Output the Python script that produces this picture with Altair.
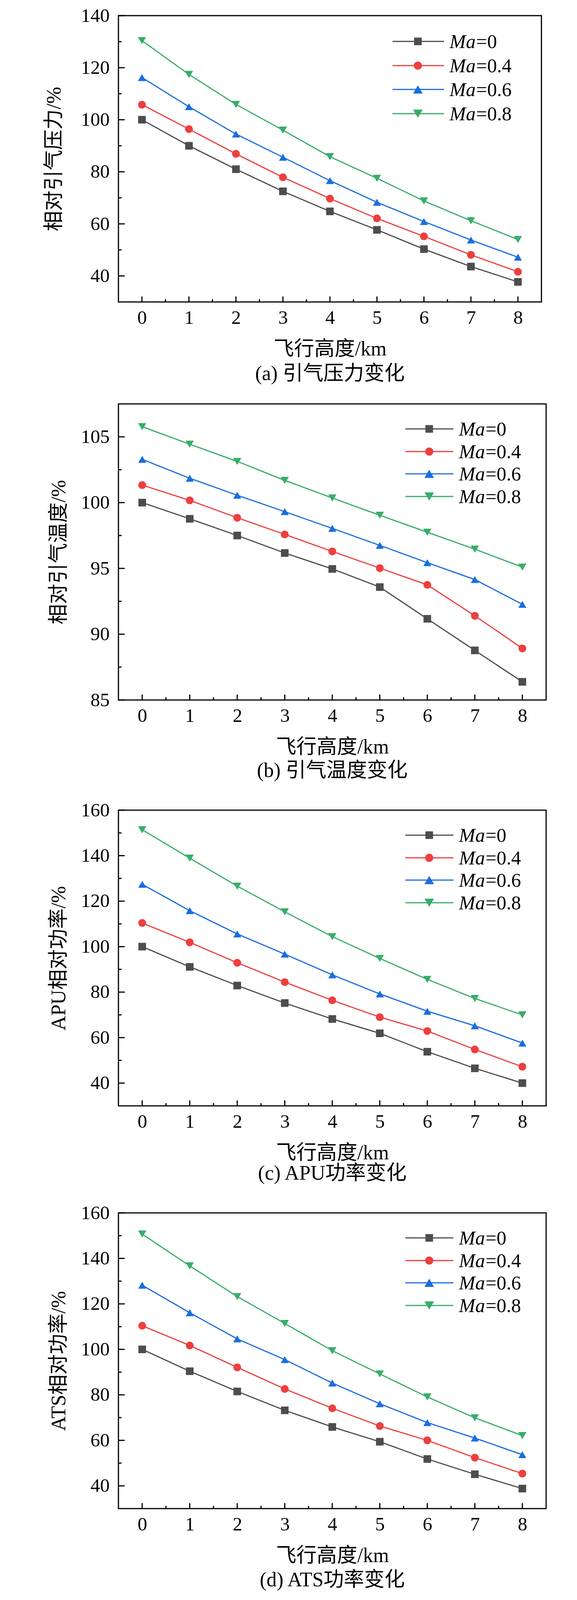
import altair as alt
import pandas as pd

FONT = "Liberation Serif, Noto Sans CJK SC, serif"

HEIGHT_KM = [0, 1, 2, 3, 4, 5, 6, 7, 8]
X_MINOR = [0.5, 1.5, 2.5, 3.5, 4.5, 5.5, 6.5, 7.5]
SERIES = ["Ma=0", "Ma=0.4", "Ma=0.6", "Ma=0.8"]
SERIES_TAIL = ["=0", "=0.4", "=0.6", "=0.8"]
COLORS = ["#4d4d4d", "#ee3e3e", "#1a6de0", "#37ad6a"]
SHAPES = ["square", "circle", "triangle-up", "triangle-down"]
SIZES = [380, 440, 600, 600]
X_TITLE = "飞行高度/km"

# (a) 引气压力
A_MA0 = [100.0, 90.0, 81.0, 72.5, 64.8, 57.7, 50.3, 43.6, 37.7]
A_MA04 = [105.8, 96.4, 86.9, 77.9, 69.7, 62.1, 55.2, 48.1, 41.6]
A_MA06 = [116.2, 105.0, 94.5, 85.6, 76.6, 68.3, 60.9, 53.8, 47.2]
A_MA08 = [130.4, 117.4, 105.9, 96.0, 85.8, 77.5, 68.8, 61.2, 54.0]

# (b) 引气温度
B_MA0 = [100.0, 98.77, 97.5, 96.17, 94.96, 93.58, 91.17, 88.77, 86.38]
B_MA04 = [101.33, 100.17, 98.85, 97.58, 96.29, 95.02, 93.75, 91.4, 88.92]
B_MA06 = [103.29, 101.85, 100.56, 99.31, 98.04, 96.75, 95.44, 94.15, 92.27]
B_MA08 = [105.77, 104.44, 103.13, 101.69, 100.35, 99.04, 97.75, 96.46, 95.1]

# (c) APU 功率
C_MA0 = [100.0, 91.1, 82.9, 75.2, 68.2, 61.9, 53.8, 46.5, 40.0]
C_MA04 = [110.4, 101.9, 92.9, 84.4, 76.4, 69.0, 62.9, 54.8, 47.2]
C_MA06 = [127.4, 115.8, 105.6, 96.7, 87.6, 79.2, 71.6, 65.2, 57.6]
C_MA08 = [151.4, 138.9, 126.6, 115.3, 104.4, 94.8, 85.6, 77.2, 70.0]

# (d) ATS 功率
D_MA0 = [100.0, 90.4, 81.5, 73.2, 65.9, 59.4, 51.8, 45.1, 38.8]
D_MA04 = [110.4, 101.7, 92.1, 82.6, 74.1, 66.3, 60.0, 52.4, 45.4]
D_MA06 = [128.2, 116.1, 104.6, 95.5, 85.2, 76.1, 67.8, 61.0, 53.7]
D_MA08 = [150.7, 136.7, 123.2, 111.4, 99.4, 89.2, 79.1, 69.9, 62.1]

A_YDOM = [30, 140]
A_YMAJOR = [40, 60, 80, 100, 120, 140]
A_YMINOR = [50, 70, 90, 110, 130]
B_YDOM = [85, 107.5]
B_YMAJOR = [85, 90, 95, 100, 105]
B_YMINOR = [87.5, 92.5, 97.5, 102.5]
C_YDOM = [30, 160]
C_YMAJOR = [40, 60, 80, 100, 120, 140, 160]
C_YMINOR = [50, 70, 90, 110, 130, 150]

TICK_FS = 49
TITLE_FS = 52
LEG_FS = 50


def panel(series_vals, ydom, ymajor, yminor, ytitle, caption, W, H,
          leg_rows, leg_x, cap_offset, title_pad):
    rows = []
    for name, vals in zip(SERIES, series_vals):
        for h, v in zip(HEIGHT_KM, vals):
            rows.append({"h": h, "v": v, "s": name})
    df = pd.DataFrame(rows)

    xs = alt.Scale(domain=[-0.5, 8.5], nice=False, zero=False)
    ys = alt.Scale(domain=ydom, nice=False, zero=False)
    xaxis = alt.Axis(values=HEIGHT_KM, format="d", title=X_TITLE,
                     domain=False, ticks=False, tickSize=0, grid=False,
                     labelFlush=False, labelAngle=0,
                     labelFont=FONT, labelFontSize=TICK_FS, labelColor="black",
                     labelPadding=16, titleFont=FONT, titleFontSize=TITLE_FS,
                     titleFontWeight="normal", titleColor="black",
                     titlePadding=30)
    yaxis = alt.Axis(values=ymajor, format="d", title=ytitle,
                     domain=False, ticks=False, tickSize=0, grid=False,
                     labelFlush=False,
                     labelFont=FONT, labelFontSize=TICK_FS, labelColor="black",
                     labelPadding=23, titleFont=FONT, titleFontSize=TITLE_FS,
                     titleFontWeight="normal", titleColor="black",
                     titlePadding=title_pad)

    def X(f):
        return alt.X(f, type="quantitative", scale=xs, axis=xaxis)

    def Y(f):
        return alt.Y(f, type="quantitative", scale=ys, axis=yaxis)

    color = alt.Color("s:N", scale=alt.Scale(domain=SERIES, range=COLORS), legend=None)
    shape = alt.Shape("s:N", scale=alt.Scale(domain=SERIES, range=SHAPES), legend=None)
    size = alt.Size("s:N", scale=alt.Scale(domain=SERIES, range=SIZES), legend=None)

    lines = alt.Chart(df).mark_line(strokeWidth=3).encode(
        x=X("h"), y=Y("v"), color=color)
    pts = alt.Chart(df).mark_point(filled=True, opacity=1).encode(
        x=X("h"), y=Y("v"), color=color, shape=shape, size=size)

    tick = dict(color="black", strokeWidth=3)
    xmaj = alt.Chart(pd.DataFrame({"t": HEIGHT_KM})).mark_rule(**tick).encode(
        x=X("t"), y=alt.value(H), y2=alt.value(H - 14))
    xmin = alt.Chart(pd.DataFrame({"t": X_MINOR})).mark_rule(**tick).encode(
        x=X("t"), y=alt.value(H), y2=alt.value(H - 7))
    ymaj = alt.Chart(pd.DataFrame({"t": ymajor})).mark_rule(**tick).encode(
        y=Y("t"), x=alt.value(0), x2=alt.value(16))
    ymin = alt.Chart(pd.DataFrame({"t": yminor})).mark_rule(**tick).encode(
        y=Y("t"), x=alt.value(0), x2=alt.value(8))

    layers = [lines, pts, xmaj, xmin, ymaj, ymin]

    lx0, lx1, mx, tx = [W - d for d in leg_x]
    for i, name in enumerate(SERIES):
        yr = leg_rows[i]
        one = pd.DataFrame({"s": [name]})
        layers.append(alt.Chart(one).mark_rule(color=COLORS[i], strokeWidth=3).encode(
            x=alt.value(lx0), x2=alt.value(lx1), y=alt.value(yr)))
        layers.append(alt.Chart(one).mark_point(
            shape=SHAPES[i], filled=True, opacity=1, size=SIZES[i], color=COLORS[i]
        ).encode(x=alt.value(mx), y=alt.value(yr)))
        layers.append(alt.Chart(one).mark_text(
            text="Ma", font="Liberation Serif", fontStyle="italic", fontSize=LEG_FS,
            align="left", baseline="alphabetic", color="black"
        ).encode(x=alt.value(tx), y=alt.value(yr + 16.5)))
        layers.append(alt.Chart(one).mark_text(
            text=SERIES_TAIL[i], font="Liberation Serif", fontSize=LEG_FS,
            align="left", baseline="alphabetic", color="black"
        ).encode(x=alt.value(tx + 68), y=alt.value(yr + 16.5)))

    return alt.layer(*layers).properties(
        width=W, height=H,
        title=alt.TitleParams(caption, orient="bottom", anchor="middle", frame="group",
                              font=FONT, fontSize=TITLE_FS, fontWeight="normal",
                              color="black", offset=cap_offset))


LEG_A_ROWS = [66, 128, 189, 251]
LEG_A_X = [381, 249, 316, 235]
LEG_B_ROWS = [64, 122, 179, 237]
LEG_B_X = [360, 237, 299, 223]

pa = panel([A_MA0, A_MA04, A_MA06, A_MA08], A_YDOM, A_YMAJOR, A_YMINOR,
           "相对引气压力/%", "(a) 引气压力变化", 1082, 733,
           LEG_A_ROWS, LEG_A_X, 12.5, 41.5)
pb = panel([B_MA0, B_MA04, B_MA06, B_MA08], B_YDOM, B_YMAJOR, B_YMINOR,
           "相对引气温度/%", "(b) 引气温度变化", 1094, 758,
           LEG_B_ROWS, LEG_B_X, 9.5, 29.5)
pc = panel([C_MA0, C_MA04, C_MA06, C_MA08], C_YDOM, C_YMAJOR, C_YMINOR,
           "APU相对功率/%", "(c) APU功率变化", 1094, 757,
           LEG_B_ROWS, LEG_B_X, 1.5, 29.5)
pd_ = panel([D_MA0, D_MA04, D_MA06, D_MA08], C_YDOM, C_YMAJOR, C_YMINOR,
            "ATS相对功率/%", "(d) ATS功率变化", 1094, 757,
            LEG_B_ROWS, LEG_B_X, 12, 29.5)

chart = alt.vconcat(pa, pb, pc, pd_, spacing=48).configure_view(
    stroke="black", strokeWidth=3
).properties(
    padding={"left": 102, "top": 6, "right": 10, "bottom": 4},
    background="white",
)

chart.save("out.html", embed_options={"renderer": "svg", "actions": False})
